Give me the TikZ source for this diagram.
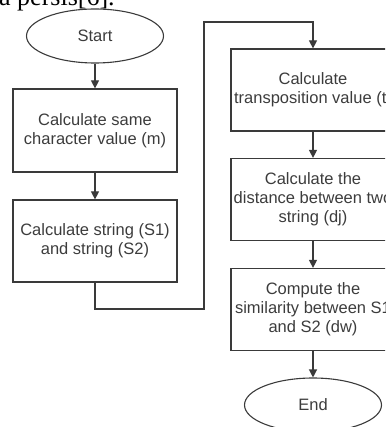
\documentclass[tikz,border=0pt]{standalone}
\usepackage{fontspec}
\setmainfont{Liberation Sans}
\newfontfamily\capfont{Liberation Serif}
\usetikzlibrary{shapes.geometric,arrows.meta}
\definecolor{linec}{HTML}{3A3A3A}
\definecolor{textc}{HTML}{3C3C3C}
\tikzset{
  procbox/.style={draw=linec, line width=1.2pt, rectangle, minimum width=164pt, minimum height=82pt,
    align=center, text=textc, font=\fontsize{16.5}{19}\selectfont, inner sep=0pt},
  terminal/.style={draw=linec, line width=1.1pt, ellipse, minimum width=137pt, minimum height=54pt,
    text=textc, font=\fontsize{16.5}{19}\selectfont, inner sep=0pt},
  flow/.style={draw=linec, line width=1.2pt, -{Triangle[length=8pt,width=8pt]}},
}
\begin{document}
\begin{tikzpicture}[x=1pt,y=-1pt]
\useasboundingbox (0,0) rectangle (385,427);
\clip (0,0) rectangle (385,427);
\node[anchor=base west, inner sep=0pt, font=\capfont\fontsize{26}{30}\selectfont] (cap) at (-1,6) {a persis[6].};
\node[terminal] (start) at (95,36) {Start};
\node[procbox, minimum height=83pt] (b1) at (95,130.5) {Calculate same\\character value (m)};
\node[procbox] (b2) at (95,241) {Calculate string (S1)\\and string (S2)};
\node[procbox] (b3) at (313,90) {Calculate\\transposition value (t)};
\node[procbox] (b4) at (313,199.5) {Calculate the\\distance between two\\string (dj)};
\node[procbox] (b5) at (313,309.5) {Compute the\\similarity between S1\\and S2 (dw)};
\node[terminal] (end) at (313,405) {End};
\coordinate (c1) at (95,309);
\coordinate (c2) at (204,309);
\coordinate (c3) at (204,22);
\coordinate (c4) at (313,22);
\draw[flow] (start) -- (b1);
\draw[flow] (b1) -- (b2);
\draw[flow] (b2.south) -- (c1) -- (c2) -- (c3) -- (c4) -- (b3.north);
\draw[flow] (b3) -- (b4);
\draw[flow] (b4) -- (b5);
\draw[flow] (b5) -- (end);
\end{tikzpicture}
\end{document}
